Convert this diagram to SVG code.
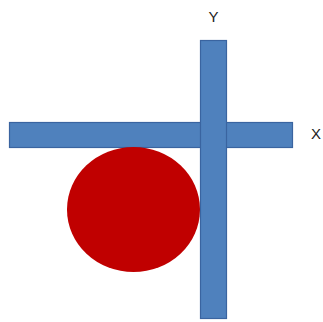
<svg xmlns="http://www.w3.org/2000/svg" width="323" height="322" viewBox="0 0 323 322">
<style>
.bar{fill:#4F81BD;stroke:#3A64A0;stroke-width:1.2}
.lbl{font-family:"Liberation Sans",Arial,sans-serif;font-size:15px;fill:#222}
</style>
<rect width="323" height="322" fill="#fff"/>
<g id="xbar"><rect class="bar" x="9.5" y="122.5" width="283" height="25"/></g>
<g id="circle"><ellipse cx="133.5" cy="209.5" rx="66.5" ry="62.5" fill="#C00000"/></g>
<g id="ybar"><rect class="bar" x="200.5" y="40.5" width="26" height="278"/></g>
<g id="labels">
<text class="lbl" x="213.5" y="22" text-anchor="middle">Y</text>
<text class="lbl" x="311" y="139">X</text>
</g>
</svg>
